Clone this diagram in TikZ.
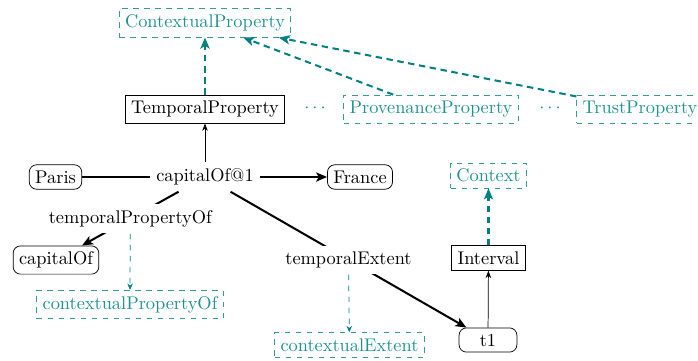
\documentclass[tikz,border=0pt]{standalone}
\usetikzlibrary{arrows.meta}
\definecolor{tl}{RGB}{0,128,128}
\definecolor{tltext}{RGB}{30,145,145}
\tikzset{
  res/.style={draw, rounded corners=4pt, inner sep=3.2pt},
  cls/.style={draw, inner sep=3.2pt},
  ctx/.style={draw=tl!80, dashed, text=tltext, inner sep=3.2pt},
  lbl/.style={fill=white, inner sep=3.2pt},
  dotsn/.style={text=tltext},
  main/.style={line width=1.1pt},
  mainarr/.style={line width=1.1pt, -{Stealth[length=6pt,width=5pt,inset=1.5pt]}},
  subarr/.style={line width=1.1pt, dash pattern=on 3.5pt off 2.5pt, draw=tl, -{Stealth[length=6pt,width=5pt,inset=1.5pt]}},
  thinarr/.style={-{Stealth[length=4pt,width=3pt]}},
  ctxarr/.style={dashed, draw=tl, -{Stealth[length=3.5pt,width=3pt]}},
}
\begin{document}
\begin{tikzpicture}[x=0.545pt, y=-0.545pt]
\useasboundingbox (0,0) rectangle (698,360);
\node[ctx] (cprop) at (205,23) {ContextualProperty};
\node[cls] (tprop) at (205,109) {TemporalProperty};
\node[dotsn] (d1) at (315,108) {$\cdots$};
\node[ctx] (prov) at (431,109) {ProvenanceProperty};
\node[dotsn] (d2) at (550,108) {$\cdots$};
\node[ctx] (trust) at (640,109) {TrustProperty};
\node[res] (paris) at (55.5,177) {Paris};
\node (cap1) at (205,177) {capitalOf@1};
\node[res] (france) at (360,177) {France};
\node[res] (capof) at (56,260) {capitalOf};
\node[ctx] (cpo) at (130,304.5) {contextualPropertyOf};
\node[ctx] (cext) at (349.5,345) {contextualExtent};
\node[res, minimum width=31.5pt] (t1) at (488,340) {t1};
\node[cls] (interval) at (488.5,258) {Interval};
\node[ctx] (context) at (488.5,175.5) {Context};

\draw[subarr] (tprop) -- (cprop);
\draw[subarr] (prov) -- (cprop);
\draw[subarr] (trust) -- (cprop);
\draw[subarr] (interval) -- (context);
\draw[thinarr] (cap1) -- (tprop);
\draw[thinarr] (t1) -- (interval);
\draw[main] (paris) -- (cap1);
\draw[mainarr] (cap1) -- (france);
\draw[mainarr] (cap1) -- node[lbl] (tpo) {temporalPropertyOf} (capof);
\draw[mainarr] (cap1) -- node[lbl] (text) {temporalExtent} (t1);
\draw[ctxarr] (tpo) -- (cpo);
\draw[ctxarr] (text) -- (cext);
\end{tikzpicture}
\end{document}
